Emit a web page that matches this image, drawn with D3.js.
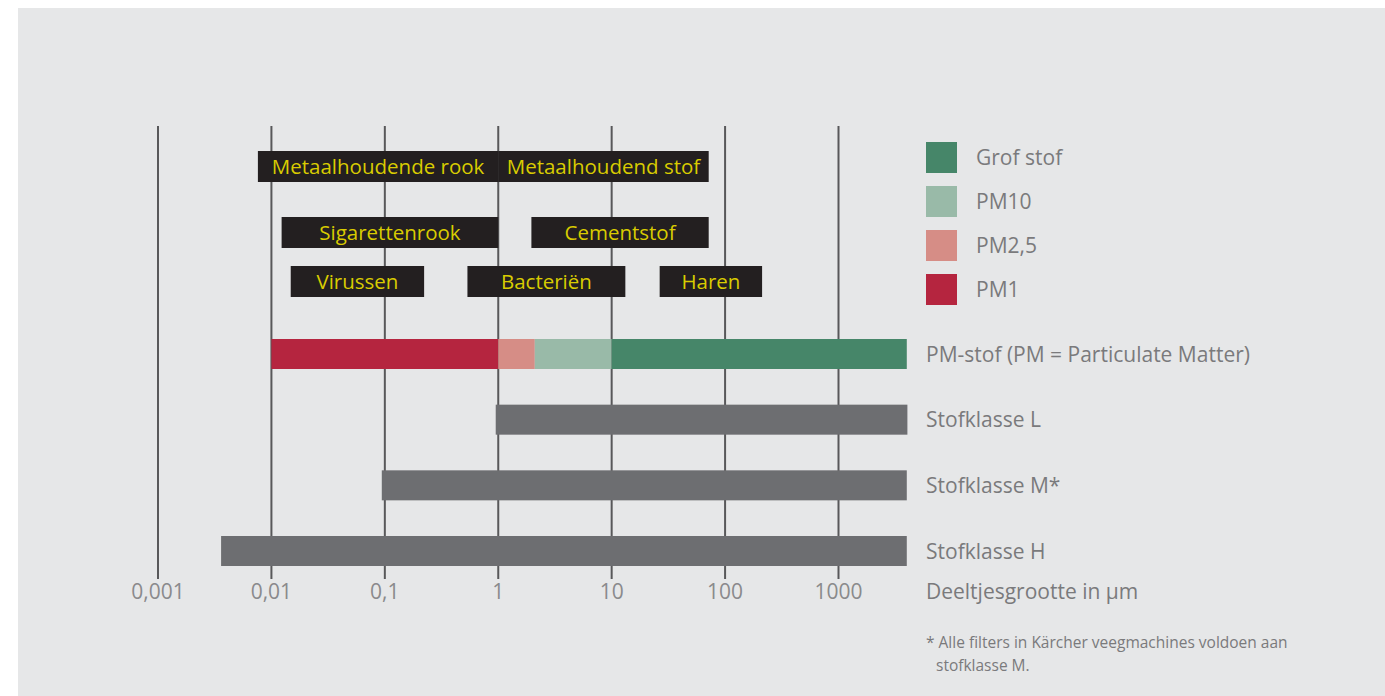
<!DOCTYPE html>
<html><head><meta charset="utf-8">
<script src="https://cdn.jsdelivr.net/npm/d3@7"></script>
<style>
html,body{margin:0;padding:0;background:#fff;}
svg{display:block;font-family:"Open Sans","Noto Sans",sans-serif;}
</style></head>
<body>
<svg id="chart" width="1385" height="696"></svg>
<script>
// ---- data ----
const tickValues = [0.001, 0.01, 0.1, 1, 10, 100, 1000];
const tickLabels = ["0,001", "0,01", "0,1", "1", "10", "100", "1000"];
const rowNames = ["PM-stof (PM = Particulate Matter)", "Stofklasse L", "Stofklasse M*", "Stofklasse H"];
const pmSegments = [
  {name: "PM1", from: 0.01, to: 1},
  {name: "PM2,5", from: 1, to: 2.1},
  {name: "PM10", from: 2.1, to: 10},
  {name: "Grof stof", from: 10, to: 4000}
];
const classBars = [
  {row: "Stofklasse L", from: 0.95, to: 4050},
  {row: "Stofklasse M*", from: 0.094, to: 4000},
  {row: "Stofklasse H", from: 0.0036, to: 4000}
];
const particleLabels = [
  {name: "Metaalhoudende rook", from: 0.0076, to: 1, level: 0},
  {name: "Metaalhoudend stof", from: 1, to: 71.7, level: 0},
  {name: "Sigarettenrook", from: 0.0123, to: 1, level: 1},
  {name: "Cementstof", from: 1.96, to: 71.7, level: 1},
  {name: "Virussen", from: 0.0148, to: 0.222, level: 2},
  {name: "Bacteriën", from: 0.535, to: 13.2, level: 2},
  {name: "Haren", from: 26.5, to: 212, level: 2}
];
const legendNames = ["Grof stof", "PM10", "PM2,5", "PM1"];
const legendColors = ["#468669", "#99baa8", "#d68d86", "#b5253f"];
const axisTitle = "Deeltjesgrootte in µm";
const footnote = ["* Alle filters in Kärcher veegmachines voldoen aan", "stofklasse M."];

// ---- drawing ----
const svg = d3.select("#chart");
svg.append("rect").attr("x", 18).attr("y", 8).attr("width", 1367).attr("height", 688).attr("fill", "#e6e7e8");

const x = d3.scaleLog().domain([0.001, 1000]).range([158, 838.5]);
const color = d3.scaleOrdinal().domain(legendNames).range(legendColors);
const yRow = d3.scalePoint().domain(rowNames).range([354, 551]);
const yLevel = d3.scaleOrdinal().domain([0, 1, 2]).range([166.5, 232.5, 281.5]);
const barH = 30, boxH = 31;

// gridlines
svg.append("g").selectAll("line").data(tickValues).join("line")
  .attr("x1", d => x(d)).attr("x2", d => x(d))
  .attr("y1", 126).attr("y2", 579)
  .attr("stroke", "#58585a").attr("stroke-width", 2);

// tick labels
svg.append("g").selectAll("text").data(tickValues).join("text")
  .attr("x", d => x(d)).attr("y", 599)
  .attr("text-anchor", "middle").attr("font-size", 21).attr("fill", "#8a8a8c")
  .text((d, i) => tickLabels[i]);

// particle label boxes
const pl = svg.append("g").selectAll("g").data(particleLabels).join("g");
pl.append("rect")
  .attr("x", d => x(d.from)).attr("width", d => x(d.to) - x(d.from))
  .attr("y", d => yLevel(d.level) - boxH / 2).attr("height", boxH)
  .attr("fill", "#231f20");
pl.append("text")
  .attr("x", d => (x(d.from) + x(d.to)) / 2).attr("y", d => yLevel(d.level))
  .attr("dy", "0.36em").attr("text-anchor", "middle")
  .attr("font-size", 20.5).attr("fill", "#d9cc00")
  .text(d => d.name);

// PM bar
svg.append("g").selectAll("rect").data(pmSegments).join("rect")
  .attr("x", d => x(d.from)).attr("width", d => x(d.to) - x(d.from))
  .attr("y", yRow(rowNames[0]) - barH / 2).attr("height", barH)
  .attr("fill", d => color(d.name));

// class bars
svg.append("g").selectAll("rect").data(classBars).join("rect")
  .attr("x", d => x(d.from)).attr("width", d => x(d.to) - x(d.from))
  .attr("y", d => yRow(d.row) - barH / 2).attr("height", barH)
  .attr("fill", "#6d6e71");

// row labels
svg.append("g").selectAll("text").data(rowNames).join("text")
  .attr("x", 926).attr("y", d => yRow(d)).attr("dy", "0.36em")
  .attr("font-size", 21).attr("fill", "#7a7a7c")
  .text(d => d);

// axis title
svg.append("text").attr("x", 926).attr("y", 599)
  .attr("font-size", 21).attr("fill", "#7a7a7c").text(axisTitle);

// legend
const lg = svg.append("g").selectAll("g").data(legendNames).join("g")
  .attr("transform", (d, i) => `translate(926,${142 + i * 44})`);
lg.append("rect").attr("width", 31).attr("height", 31).attr("fill", d => color(d));
lg.append("text").attr("x", 50).attr("y", 15.5).attr("dy", "0.36em")
  .attr("font-size", 21).attr("fill", "#7a7a7c").text(d => d);

// footnote
svg.append("g").selectAll("text").data(footnote).join("text")
  .attr("x", (d, i) => i === 0 ? 926 : 936).attr("y", (d, i) => 648 + i * 23)
  .attr("font-size", 15.5).attr("fill", "#7a7a7c").text(d => d);
</script>
</body></html>
